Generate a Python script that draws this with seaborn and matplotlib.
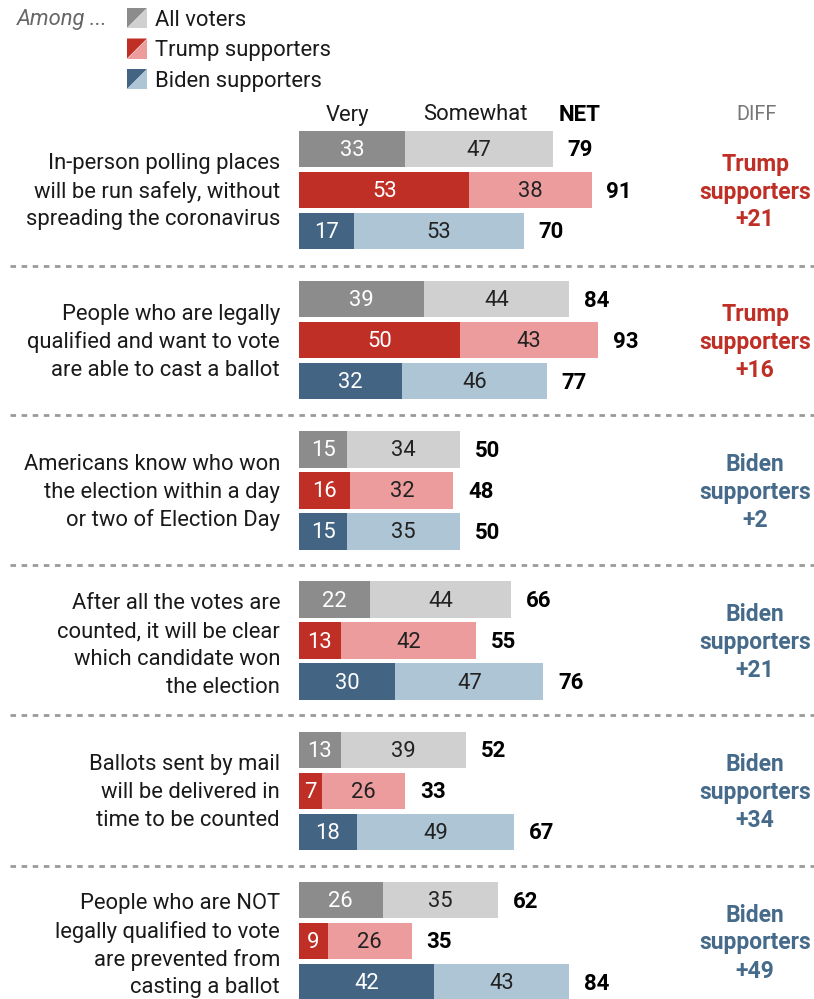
import matplotlib
matplotlib.use("Agg")
import matplotlib.pyplot as plt
import numpy as np
import pandas as pd
import seaborn as sns
from matplotlib.patches import Polygon

# ---- data -------------------------------------------------------------
statements = [
    ["In-person polling places", "will be run safely, without", "spreading the coronavirus"],
    ["People who are legally", "qualified and want to vote", "are able to cast a ballot"],
    ["Americans know who won", "the election within a day", "or two of Election Day"],
    ["After all the votes are", "counted, it will be clear", "which candidate won", "the election"],
    ["Ballots sent by mail", "will be delivered in", "time to be counted"],
    ["People who are NOT", "legally qualified to vote", "are prevented from", "casting a ballot"],
]
groups = ["All voters", "Trump supporters", "Biden supporters"]

very_all = [33, 39, 15, 22, 13, 26]
very_trump = [53, 50, 16, 13, 7, 9]
very_biden = [17, 32, 15, 30, 18, 42]

somewhat_all = [47, 44, 34, 44, 39, 35]
somewhat_trump = [38, 43, 32, 42, 26, 26]
somewhat_biden = [53, 46, 35, 47, 49, 43]

net_all = [79, 84, 50, 66, 52, 62]
net_trump = [91, 93, 48, 55, 33, 35]
net_biden = [70, 77, 50, 76, 67, 84]

diff_side = ["Trump", "Trump", "Biden", "Biden", "Biden", "Biden"]
diff_value = [21, 16, 2, 21, 34, 49]

# ---- styling ----------------------------------------------------------
dark = {"All voters": "#8c8c8c", "Trump supporters": "#bf2f26", "Biden supporters": "#436483"}
light = {"All voters": "#d0d0d0", "Trump supporters": "#ec9c9c", "Biden supporters": "#adc5d5"}
side_color = {"Trump": "#bf2f26", "Biden": "#466a8a"}

sns.set_theme(style="white")
plt.rcParams["font.family"] = ["Roboto", "DejaVu Sans"]

W, H = 814, 999
FS = 15.8
FSB = 16
dy = 2                      # small downward nudge for text baselines
x0, ppu = 299, 3.215        # pixel origin of the bars and pixels per percentage point
group_center = [190 + g * 150.2 for g in range(6)]
row_gap = 41

# long table for seaborn
rows = []
vlists = [very_all, very_trump, very_biden]
slists = [somewhat_all, somewhat_trump, somewhat_biden]
nlists = [net_all, net_trump, net_biden]
for g in range(6):
    for r, grp in enumerate(groups):
        rows.append({"ypos": group_center[g] + (r - 1) * row_gap, "group": grp,
                     "very": vlists[r][g], "somewhat": slists[r][g], "net": nlists[r][g]})
df = pd.DataFrame(rows)

fig = plt.figure(figsize=(W / 100, H / 100), dpi=100)
ax = fig.add_axes([0, 0, 1, 1])
bw = 36.5 / row_gap
sns.barplot(data=df, x="net", y="ypos", hue="group", palette=light, orient="h",
            native_scale=True, dodge=False, width=bw, errorbar=None, legend=False,
            saturation=1, ax=ax, linewidth=0)
sns.barplot(data=df, x="very", y="ypos", hue="group", palette=dark, orient="h",
            native_scale=True, dodge=False, width=bw, errorbar=None, legend=False,
            saturation=1, ax=ax, linewidth=0)
ax.set_xlim(-x0 / ppu, (W - x0) / ppu)
ax.set_ylim(H, 0)
ax.axis("off")

for _, row in df.iterrows():
    y = row["ypos"] + 1.5
    ax.text(row["very"] / 2, y, f"{row['very']}", ha="center", va="center",
            color="white", fontsize=FS)
    ax.text(row["very"] + (row["net"] - row["very"]) / 2, y, f"{row['somewhat']}",
            ha="center", va="center", color="#222222", fontsize=FS)
    ax.text(row["net"] + 4.6, y, f"{row['net']}", ha="left", va="center",
            color="black", fontsize=FSB, fontweight="bold")

# overlay axes in pixel units for labels, separators and the key
ov = fig.add_axes([0, 0, 1, 1], facecolor="none")
ov.set_xlim(0, W)
ov.set_ylim(H, 0)
ov.axis("off")

line_h = 28
for g, lines in enumerate(statements):
    n = len(lines)
    c = group_center[g] + (3 if n == 4 else 0) + dy
    for i, t in enumerate(lines):
        ov.text(280, c + (i - (n - 1) / 2) * line_h, t, ha="right", va="center",
                fontsize=FS, color="#1a1a1a")
    col = side_color[diff_side[g]]
    for i, t in enumerate([diff_side[g], "supporters", f"+{diff_value[g]}"]):
        ov.text(755, group_center[g] + dy + (i - 1) * line_h, t, ha="center", va="center",
                fontsize=FSB + 0.5, fontweight="bold", color=col)

for y in [266, 415, 565, 715, 866]:
    ov.plot([10, W], [y, y], color="#9a9a9a", lw=2, ls=(0, (2, 2)))

# column headers
ov.text(347, 113 + dy, "Very", ha="center", va="center", fontsize=FS, color="#1a1a1a")
ov.text(475, 113 + dy, "Somewhat", ha="center", va="center", fontsize=FS, color="#1a1a1a")
ov.text(580, 113 + dy, "NET", ha="center", va="center", fontsize=FSB, fontweight="bold", color="black")
ov.text(757, 113 + dy, "DIFF", ha="center", va="center", fontsize=FS - 1.5, color="#777777")

# key
ov.text(17, 17 + dy, "Among ...", ha="left", va="center", fontsize=FS, style="italic", color="#666666")
for i, grp in enumerate(groups):
    yc = 18 + i * 30.5
    xa, xb, ya, yb = 127, 147, yc - 10, yc + 10
    ov.add_patch(Polygon([[xa, ya], [xb, ya], [xa, yb]], closed=True, color=dark[grp], lw=0))
    ov.add_patch(Polygon([[xb, ya], [xb, yb], [xa, yb]], closed=True, color=light[grp], lw=0))
    ov.text(155, yc + dy, grp, ha="left", va="center", fontsize=FS, color="#1a1a1a")

fig.savefig("out.png", dpi=100)
